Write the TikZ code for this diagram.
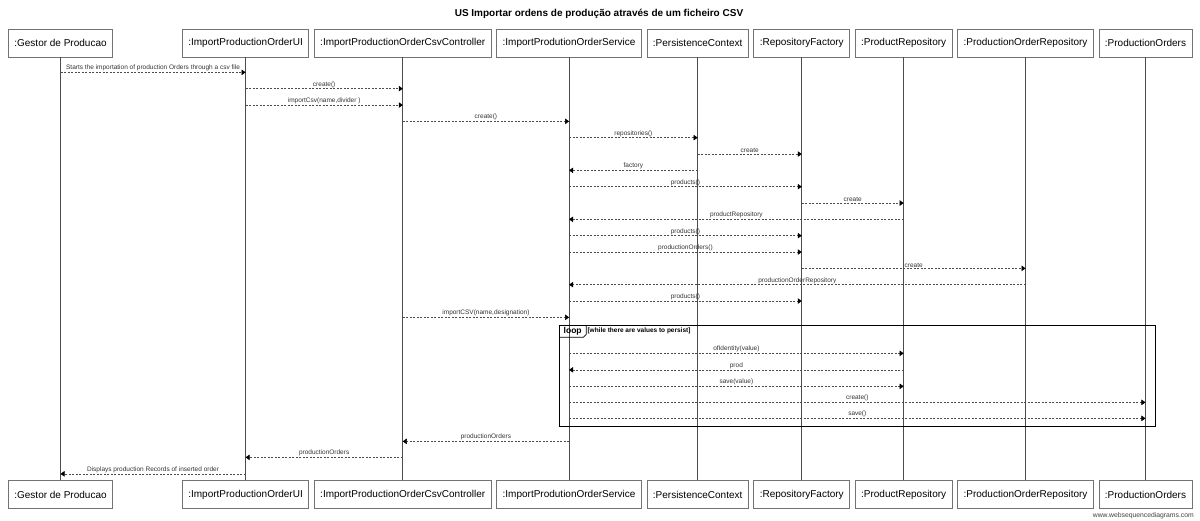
\documentclass[tikz,border=0pt]{standalone}
\usepackage{fontspec}
\setmainfont{Liberation Sans}
\usetikzlibrary{arrows.meta,positioning}

\begin{document}
\begin{tikzpicture}[
        x=1pt, y=1pt,
        node distance=4.7pt,
        actor/.style={draw=black!55, line width=0.7pt, fill=white, minimum height=28pt, inner xsep=6pt, font=\fontsize{10}{12}\selectfont},
        lifeline/.style={black!70, line width=0.6pt},
        msg/.style={-{Triangle[length=4pt, width=5.5pt, black]}, dash pattern=on 2pt off 1.5pt, black!70, line width=0.5pt},
        lbl/.style={above, inner sep=1pt, text=black!80, font=\fontsize{6.5}{7}\selectfont}
    ]
        \useasboundingbox (0,0) rectangle (1200,-520);
        \node[font=\bfseries\fontsize{10}{12}\selectfont] (title) at (599,-13.5) {US Importar ordens de produção através de um ficheiro CSV};

        \node[actor] (G) at (60.5,-43) {:Gestor de Producao};
        \node[actor, right=69pt of G] (UI) {:ImportProductionOrderUI};
        \node[actor, right=of UI] (Ctrl) {:ImportProductionOrderCsvController};
        \node[actor, right=of Ctrl] (Svc) {:ImportProdutionOrderService};
        \node[actor, right=of Svc] (PC) {:PersistenceContext};
        \node[actor, right=of PC] (RF) {:RepositoryFactory};
        \node[actor, right=of RF] (PR) {:ProductRepository};
        \node[actor, right=of PR] (POR) {:ProductionOrderRepository};
        \node[actor, right=of POR] (PO) {:ProductionOrders};

        \foreach \i/\t in {G/:Gestor de Producao, UI/:ImportProductionOrderUI, Ctrl/:ImportProductionOrderCsvController, Svc/:ImportProdutionOrderService, PC/:PersistenceContext, RF/:RepositoryFactory, PR/:ProductRepository, POR/:ProductionOrderRepository, PO/:ProductionOrders} {
            \node[actor, below=423pt of \i] (\i-b) {\t};
            \draw[lifeline] (\i) -- (\i-b);
        }

        \draw[msg] ([yshift=-15pt]G.south) -- node[lbl] {Starts the importation of production Orders through a csv file} ([yshift=-15pt]UI.south);
        \draw[msg] ([yshift=-31.3pt]UI.south) -- node[lbl] {create()} ([yshift=-31.3pt]Ctrl.south);
        \draw[msg] ([yshift=-47.7pt]UI.south) -- node[lbl] {importCsv(name,divider )} ([yshift=-47.7pt]Ctrl.south);
        \draw[msg] ([yshift=-64pt]Ctrl.south) -- node[lbl] {create()} ([yshift=-64pt]Svc.south);
        \draw[msg] ([yshift=-80.3pt]Svc.south) -- node[lbl] {repositories()} ([yshift=-80.3pt]PC.south);
        \draw[msg] ([yshift=-96.7pt]PC.south) -- node[lbl] {create} ([yshift=-96.7pt]RF.south);
        \draw[msg] ([yshift=-113pt]PC.south) -- node[lbl] {factory} ([yshift=-113pt]Svc.south);
        \draw[msg] ([yshift=-129.3pt]Svc.south) -- node[lbl] {products()} ([yshift=-129.3pt]RF.south);
        \draw[msg] ([yshift=-145.7pt]RF.south) -- node[lbl] {create} ([yshift=-145.7pt]PR.south);
        \draw[msg] ([yshift=-162pt]PR.south) -- node[lbl] {productRepository} ([yshift=-162pt]Svc.south);
        \draw[msg] ([yshift=-178.3pt]Svc.south) -- node[lbl] {products()} ([yshift=-178.3pt]RF.south);
        \draw[msg] ([yshift=-194.7pt]Svc.south) -- node[lbl] {productionOrders()} ([yshift=-194.7pt]RF.south);
        \draw[msg] ([yshift=-211pt]RF.south) -- node[lbl] {create} ([yshift=-211pt]POR.south);
        \draw[msg] ([yshift=-227.3pt]POR.south) -- node[lbl] {productionOrderRepository} ([yshift=-227.3pt]Svc.south);
        \draw[msg] ([yshift=-243.7pt]Svc.south) -- node[lbl] {products()} ([yshift=-243.7pt]RF.south);
        \draw[msg] ([yshift=-260pt]Ctrl.south) -- node[lbl] {importCSV(name,designation)} ([yshift=-260pt]Svc.south);

        % loop frame
        \draw[line width=0.9pt] (559,-325) rectangle (1155,-426);
        \node[anchor=north west, inner xsep=4.5pt, inner ysep=2pt, font=\bfseries\fontsize{8.5}{9}\selectfont] (L) at (559,-325) {loop};
        \draw[line width=0.7pt] (L.south west) -- ([xshift=-3pt]L.south east) -- ([yshift=3pt]L.south east) -- (L.north east);
        \node[right=1pt of L, inner sep=0pt, font=\bfseries\fontsize{6.5}{7}\selectfont] (cond) {[while there are values to persist]};

        \draw[msg] ([yshift=-296pt]Svc.south) -- node[lbl] {ofIdentity(value)} ([yshift=-296pt]PR.south);
        \draw[msg] ([yshift=-312.5pt]PR.south) -- node[lbl] {prod} ([yshift=-312.5pt]Svc.south);
        \draw[msg] ([yshift=-329pt]Svc.south) -- node[lbl] {save(value)} ([yshift=-329pt]PR.south);
        \draw[msg] ([yshift=-345pt]Svc.south) -- node[lbl] {create()} ([yshift=-345pt]PO.south);
        \draw[msg] ([yshift=-361pt]Svc.south) -- node[lbl] {save()} ([yshift=-361pt]PO.south);

        \draw[msg] ([yshift=-384pt]Svc.south) -- node[lbl] {productionOrders} ([yshift=-384pt]Ctrl.south);
        \draw[msg] ([yshift=-400pt]Ctrl.south) -- node[lbl] {productionOrders} ([yshift=-400pt]UI.south);
        \draw[msg] ([yshift=-416.5pt]UI.south) -- node[lbl] {Displays production Records of inserted order} ([yshift=-416.5pt]G.south);

        \node[anchor=base east, inner sep=0pt, text=black!75, font=\fontsize{6.8}{8}\selectfont] (credit) at (1194,-517) {www.websequencediagrams.com};
    \end{tikzpicture}
\end{document}
